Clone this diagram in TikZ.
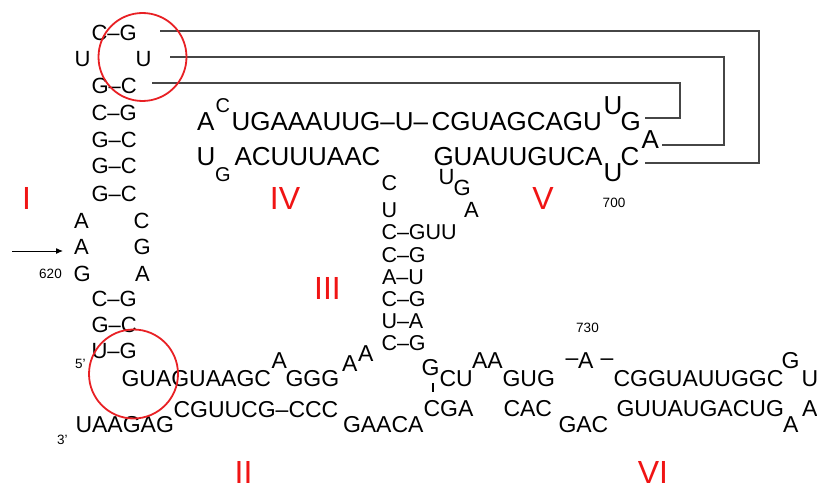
\documentclass[tikz,border=0pt]{standalone}
\usepackage{fontspec}
\setmainfont{Liberation Sans}
\usetikzlibrary{arrows.meta}
\definecolor{numred}{RGB}{240,20,20}
\definecolor{circred}{RGB}{232,32,36}
\definecolor{pkgray}{RGB}{70,70,70}
\begin{document}
\begin{tikzpicture}[x=1pt,y=-1pt,
  b/.style={inner sep=0pt, outer sep=0pt, anchor=base west},
  nL/.style={b, font=\fontsize{22}{26}\selectfont},
  nB/.style={b, font=\fontsize{23}{27}\selectfont},
  nM/.style={b, font=\fontsize{26}{30}\selectfont},
  nMs/.style={b, font=\fontsize{20}{24}\selectfont},
  nS/.style={b, font=\fontsize{21.5}{25}\selectfont},
  num/.style={inner sep=0pt, text=numred, font=\fontsize{32}{36}\selectfont},
  small/.style={inner sep=0pt, font=\fontsize{13.5}{16}\selectfont},
  smallb/.style={b, font=\fontsize{13.5}{16}\selectfont},
  pk/.style={draw=pkgray, line width=1.1pt},
  circ/.style={draw=circred, line width=1.8pt},
  tick/.style={draw=black, line width=1.6pt},
]
\useasboundingbox (0,0) rectangle (817,484);

% ---- stem I (left) ----
\node[nL] (s1) at (91.5,41) {C\textendash G};
\node[nL] (s2a) at (74.5,67) {U};
\node[nL] (s2b) at (135.5,67) {U};
\node[nL] (s3) at (91.5,94) {G\textendash C};
\node[nL] (s4) at (91.5,121) {C\textendash G};
\node[nL] (s5) at (91.5,148) {G\textendash C};
\node[nL] (s6) at (91.5,174) {G\textendash C};
\node[nL] (s7) at (91.5,201) {G\textendash C};
\node[nL] (s8a) at (74,229) {A};
\node[nL] (s8b) at (133.5,229) {C};
\node[nL] (s9a) at (74,254) {A};
\node[nL] (s9b) at (133.5,254) {G};
\node[nL] (s10a) at (73.5,281) {G};
\node[nL] (s10b) at (135,281) {A};
\node[nL] (s11) at (91.5,306) {C\textendash G};
\node[nL] (s12) at (91.5,332) {G\textendash C};
\node[nL] (s13) at (91.5,358) {U\textendash G};

\node[small] (n620) at (50.5,274) {620};
\coordinate (arrS) at (12,251);
\coordinate (arrE) at (63,251);
\draw[line width=1pt, -{Latex[length=7pt,width=6pt]}] (arrS) -- (arrE);

% ---- bottom strand / stem II ----
\node[smallb] (five) at (75,368.5) {5'};
\node[smallb] (three) at (57,444.5) {3'};
\node[nB] (b1) at (121.5,386) {GUAGUAAGC};
\node[nB] (b2) at (271.5,368) {A};
\node[nB] (b3) at (285.5,386) {GGG};
\node[nB] (b4) at (342,371) {A};
\node[nB] (b5) at (358,361) {A};
\node[nB] (b6) at (75.5,432) {UAAGAG};
\node[nB] (b7) at (173.5,417) {CGUUCG\textendash CCC};
\node[nB] (b8) at (343,432) {GAACA};

% ---- junction / stem VI ----
\node[nB] (j1) at (421.5,375) {G};
\node[nB] (j2) at (439.5,386) {CU};
\node[nB] (j3) at (472,368) {AA};
\node[nB] (j4) at (502.5,386) {GUG};
\coordinate (tkA) at (433,383);
\coordinate (tkB) at (433,392);
\draw[tick] (tkA) -- (tkB);
\node[nB] (j5) at (423.5,416) {CGA};
\node[nB] (j6) at (503.5,416) {CAC};
\node[nB] (j7) at (558.5,432) {GAC};
\node[nB] (d1) at (565.5,365) {\textendash};
\node[nB] (j8) at (578,368) {A};
\node[nB] (d2) at (600.5,365) {\textendash};
\node[small] (n730) at (587.5,328) {730};
\node[nB] (v1) at (613.5,386) {CGGUAUUGGC};
\node[nB] (v2) at (781.5,368) {G};
\node[nB] (v3) at (801.5,386) {U};
\node[nB] (v4) at (616.5,416) {GUUAUGACUG};
\node[nB] (v5) at (783,432) {A};
\node[nB] (v6) at (802,416) {A};

% ---- IV / V ----
\node[nM] (m1) at (197,131) {A};
\node[nMs] (m2) at (215.5,113) {C};
\node[nM] (m3) at (231.5,131) {UGAAAUUG\textendash U\textendash};
\node[nM] (m3b) at (431.5,131) {CGUAGCAGU};
\node[nM] (m4) at (603.5,115) {U};
\node[nM] (m5) at (620.5,131) {G};
\node[nM] (m6) at (196.5,166) {U};
\node[nMs] (m7) at (215,182) {G};
\node[nM] (m8) at (234.5,166) {ACUUUAAC};
\node[nM] (m9) at (433.5,166) {GUAUUGUCA};
\node[nM] (m10) at (603.5,182) {U};
\node[nM] (m11) at (620.5,166) {C};
\node[nM] (m12) at (641.5,149) {A};
\node[small] (n700) at (614,203) {700};

% ---- stem III ----
\node[nS] (t1) at (381.5,190) {C};
\node[nS] (t2) at (381.5,217) {U};
\node[nS] (t3) at (381.5,240) {C\textendash GUU};
\node[nS] (t4) at (381.5,262) {C\textendash G};
\node[nS] (t5) at (382,284) {A\textendash U};
\node[nS] (t6) at (381.5,306) {C\textendash G};
\node[nS] (t7) at (381.5,328) {U\textendash A};
\node[nS] (t8) at (381.5,350) {C\textendash G};
\node[nL] (u1) at (438.5,185) {U};
\node[nL] (u2) at (453.5,196) {G};
\node[nL] (u3) at (464,218) {A};

% ---- pseudoknot connectors ----
\coordinate (p1s) at (160,31);
\coordinate (p1c) at (759,163);
\coordinate (p1e) at (645,163);
\draw[pk] (p1s) -| (p1c) -- (p1e);
\coordinate (p2s) at (170,57);
\coordinate (p2c) at (724,145);
\coordinate (p2e) at (662,145);
\draw[pk] (p2s) -| (p2c) -- (p2e);
\coordinate (p3s) at (152,83);
\coordinate (p3c) at (680,118);
\coordinate (p3e) at (645,118);
\draw[pk] (p3s) -| (p3c) -- (p3e);

% ---- circles ----
\coordinate (c1) at (142.5,57);
\coordinate (c2) at (133.5,374);
\draw[circ] (c1) circle (44pt);
\draw[circ] (c2) circle (44.5pt);

% ---- roman numerals ----
\node[num] (rI) at (26.5,198) {I};
\node[num] (rIV) at (285,198) {IV};
\node[num] (rV) at (543,198) {V};
\node[num] (rIII) at (327.5,288) {III};
\node[num] (rII) at (243.5,472) {II};
\node[num] (rVI) at (653,472) {VI};
\end{tikzpicture}
\end{document}
